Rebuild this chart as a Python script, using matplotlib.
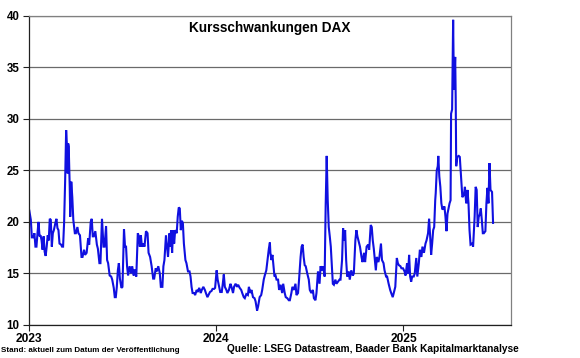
import matplotlib
matplotlib.use("Agg")
import matplotlib.pyplot as plt
import pandas as pd
import numpy as np

# Days since 2023-01-01 and VDAX-style volatility readings
day_offset = [
    0, 3, 5, 8, 10, 12, 14, 16, 18, 20, 22, 24, 26, 28, 30, 32, 34, 36, 38, 40,
    42, 44, 46, 48, 51, 53, 55, 57, 59, 62, 64, 66, 68, 70, 72, 74, 75, 76, 77, 79,
    80, 82, 84, 86, 89, 91, 94, 96, 99, 102, 104, 107, 109, 112, 115, 117, 120, 122, 124, 126,
    129, 132, 134, 137, 139, 142, 145, 147, 150, 152, 154, 157, 160, 162, 165, 167, 169, 171, 173, 175,
    177, 180, 182, 185, 187, 189, 191, 193, 196, 199, 201, 204, 206, 209, 212, 214, 216, 218, 220, 223,
    225, 228, 231, 233, 236, 239, 242, 244, 247, 249, 252, 255, 257, 260, 262, 264, 267, 269, 271, 274,
    275, 277, 279, 281, 283, 285, 288, 290, 292, 294, 296, 298, 300, 302, 305, 307, 310, 313, 315, 317,
    319, 322, 324, 327, 329, 332, 335, 337, 340, 343, 345, 348, 350, 353, 356, 358, 361, 363,
    366, 368, 371, 373, 376, 378, 380, 382, 385, 387, 390, 393, 395, 398, 400, 403, 406, 408, 411, 414,
    416, 419, 421, 424, 427, 429, 432, 434, 437, 440, 442, 445, 447, 450, 453, 455, 458, 460, 463, 466,
    468, 470, 471, 473, 475, 477, 479, 481, 483, 486, 488, 491, 494, 496, 499, 501, 504, 507, 509, 512,
    514, 517, 520, 522, 525, 527, 530, 532, 534, 536, 538, 540, 543, 546, 548, 551, 554, 556, 559, 561,
    564, 567, 569, 572, 574, 577, 579, 581, 583, 585, 587, 589, 591, 593, 595, 598, 600, 603, 606, 608,
    611, 613, 615, 617, 619, 621, 624, 626, 629, 632, 634, 637, 639, 641, 643, 646, 649, 651, 654, 656,
    659, 662, 664, 667, 669, 671, 673, 675, 677, 679, 682, 684, 687, 689, 692, 694, 697, 699, 702, 705,
    707, 710, 712, 715, 718, 720, 722, 725, 727,
    730, 733, 735, 738, 740, 742, 744, 746, 748, 751, 753, 756, 758, 761, 763, 766, 768, 771, 774, 776,
    779, 781, 783, 785, 787, 789, 791, 793, 794, 796, 798, 799, 801, 803, 805, 807, 809, 811, 813, 815,
    817, 819, 821, 823, 824, 826, 828, 829, 830, 832, 833, 834, 836, 839, 841, 844, 846, 849, 851, 853,
    854, 856, 858, 860, 862, 865, 867, 870, 872, 874, 876, 878, 880, 882, 884, 886, 888, 891, 893, 895,
    897, 899, 901, 904, 906,
]

volatility = [
    21.1, 20.2, 18.5, 18.5, 18.9, 17.6, 17.6, 18.9, 20.0, 18.6, 18.7, 18.2, 17.3, 18.6, 17.1, 16.7, 17.6, 18.7, 18.2, 20.3,
    20.2, 17.6, 18.9, 19.2, 19.9, 20.3, 19.4, 19.2, 17.9, 17.8, 17.6, 17.6, 19.9, 23.9, 28.9, 27.0, 24.7, 27.6, 27.3, 23.4,
    20.5, 23.9, 22.4, 20.2, 18.9, 18.9, 19.5, 18.9, 18.7, 16.6, 16.6, 17.3, 16.8, 17.0, 18.4, 17.8, 20.0, 20.3, 18.6, 18.6,
    19.1, 17.8, 17.4, 16.0, 16.0, 20.3, 17.6, 17.6, 19.6, 16.3, 16.0, 14.8, 14.7, 14.4, 13.6, 12.7, 12.7, 13.7, 15.3, 16.0,
    14.5, 13.6, 13.7, 19.3, 17.6, 17.6, 15.7, 14.8, 15.7, 15.0, 15.7, 14.8, 15.4, 14.7, 18.9, 18.6, 17.6, 18.7, 17.6, 17.9,
    17.6, 19.1, 18.9, 17.0, 16.6, 15.7, 14.5, 14.5, 15.5, 15.2, 15.7, 15.0, 13.7, 13.7, 15.7, 16.3, 18.7, 17.6, 16.6, 18.9,
    17.6, 19.2, 17.0, 19.2, 17.9, 19.2, 18.9, 20.5, 21.4, 21.3, 19.2, 20.1, 19.9, 17.9, 16.3, 16.0, 15.2, 15.2, 14.7, 13.7,
    13.1, 13.1, 12.9, 13.4, 13.2, 13.6, 13.1, 13.4, 13.7, 13.4, 13.1, 12.7, 12.9, 13.2, 13.3, 13.5, 13.5, 13.6,
    15.3, 14.4, 13.7, 13.2, 13.2, 14.0, 14.9, 13.7, 13.4, 13.1, 13.4, 14.0, 13.7, 13.1, 13.7, 14.0, 13.7, 13.9, 13.6, 13.4,
    13.1, 12.7, 12.6, 13.0, 12.9, 13.7, 13.1, 13.4, 12.7, 12.6, 12.3, 11.4, 11.8, 12.7, 12.9, 13.4, 14.4, 14.8, 15.3, 16.6,
    17.4, 18.0, 17.0, 16.3, 16.8, 15.7, 14.7, 14.8, 14.4, 14.4, 13.4, 13.9, 13.1, 14.0, 13.1, 12.7, 12.6, 12.4, 12.4, 13.1,
    13.7, 13.4, 14.0, 12.9, 13.1, 14.4, 16.6, 17.6, 17.8, 16.6, 15.8, 15.7, 15.0, 14.4, 13.4, 13.1, 13.4, 12.6, 12.4, 13.1,
    15.2, 14.0, 15.7, 15.3, 15.7, 14.7, 21.6, 26.4, 22.1, 19.5, 18.6, 17.6, 15.7, 14.0, 13.9, 14.4, 14.0, 14.2, 14.4, 14.4,
    16.3, 19.4, 18.2, 19.2, 16.3, 14.7, 15.2, 14.4, 15.3, 14.8, 15.0, 18.2, 19.2, 18.6, 18.2, 17.6, 16.6, 16.1, 17.0, 16.1,
    17.6, 17.8, 17.3, 19.7, 19.5, 18.2, 17.4, 16.3, 15.3, 16.6, 16.1, 16.6, 17.9, 16.3, 16.0, 15.3, 14.7, 14.7, 14.0, 13.4,
    13.1, 12.7, 13.1, 13.7, 16.5, 16.0, 15.8, 15.7, 15.5,
    15.5, 15.2, 14.8, 16.0, 15.0, 16.8, 14.7, 14.2, 14.7, 14.7, 15.0, 16.5, 14.7, 16.0, 17.3, 16.6, 17.6, 17.0, 17.9, 18.2,
    18.9, 20.3, 18.7, 16.8, 17.9, 19.2, 19.5, 22.1, 22.8, 25.0, 25.4, 26.4, 24.4, 23.4, 21.8, 21.2, 21.3, 21.5, 20.5, 19.1,
    20.8, 21.3, 21.8, 22.1, 30.5, 30.9, 39.6, 35.1, 32.8, 36.0, 32.1, 25.4, 26.3, 26.4, 26.3, 23.9, 22.4, 22.6, 23.4, 22.1,
    21.8, 23.1, 21.8, 19.2, 17.8, 17.9, 17.6, 20.5, 23.4, 23.1, 19.5, 20.5, 20.7, 21.3, 20.2, 18.9, 18.9, 19.1, 21.8, 23.3,
    21.8, 25.7, 23.1, 22.9, 19.9,
]

year_ticks = ["2023-01-01", "2024-01-01", "2025-01-01"]
year_labels = ["2023", "2024", "2025"]
y_ticks = [10, 15, 20, 25, 30, 35, 40]

title = "Kursschwankungen DAX"
note_left = "Stand: aktuell zum Datum der Veröffentlichung"
note_right = "Quelle: LSEG Datastream, Baader Bank Kapitalmarktanalyse"

base = pd.Timestamp("2023-01-01")
dates = base + pd.to_timedelta(day_offset, unit="D")

FONT = ["Liberation Sans", "DejaVu Sans"]

fig = plt.figure(figsize=(5.8, 3.58), dpi=100)
ax = fig.add_axes([0.0505, 0.0922, 0.8305, 0.8640])

ax.plot(dates, volatility, color="#1010e0", lw=1.5, solid_joinstyle="miter")

ax.set_xlim(base, base + pd.Timedelta(days=941))
ax.set_ylim(10, 40)
ax.set_yticks(y_ticks)
ax.set_yticklabels([str(v) for v in y_ticks], fontfamily=FONT, fontweight="bold", fontsize=8.3)
ax.set_xticks(pd.to_datetime(year_ticks))
ax.set_xticklabels(year_labels, fontfamily=FONT, fontweight="bold", fontsize=8.6)

ax.grid(axis="y", color="#6a6a6a", lw=0.9)
ax.set_axisbelow(True)
for s in ["top", "right"]:
    ax.spines[s].set_color("#808080")
    ax.spines[s].set_linewidth(0.9)
for s in ["left", "bottom"]:
    ax.spines[s].set_color("#202020")
    ax.spines[s].set_linewidth(0.9)
ax.tick_params(axis="y", direction="out", length=4, width=0.8, pad=3, colors="#202020")
ax.tick_params(axis="x", direction="out", length=4, width=0.8, pad=2, colors="#202020")
for lab in ax.get_yticklabels() + ax.get_xticklabels():
    lab.set_color("black")

ax.text(0.5, 0.959, title, transform=ax.transAxes, ha="center", va="center",
        fontfamily=FONT, fontweight="bold", fontsize=9.8)

fig.text(1 / 580, 1 - 350.7 / 358, note_left, ha="left", va="center",
         fontfamily=FONT, fontweight="bold", fontsize=5.8)
fig.text(519 / 580, 1 - 349.3 / 358, note_right, ha="right", va="center",
         fontfamily=FONT, fontweight="bold", fontsize=7.3)

fig.savefig("out.png", dpi=100)
